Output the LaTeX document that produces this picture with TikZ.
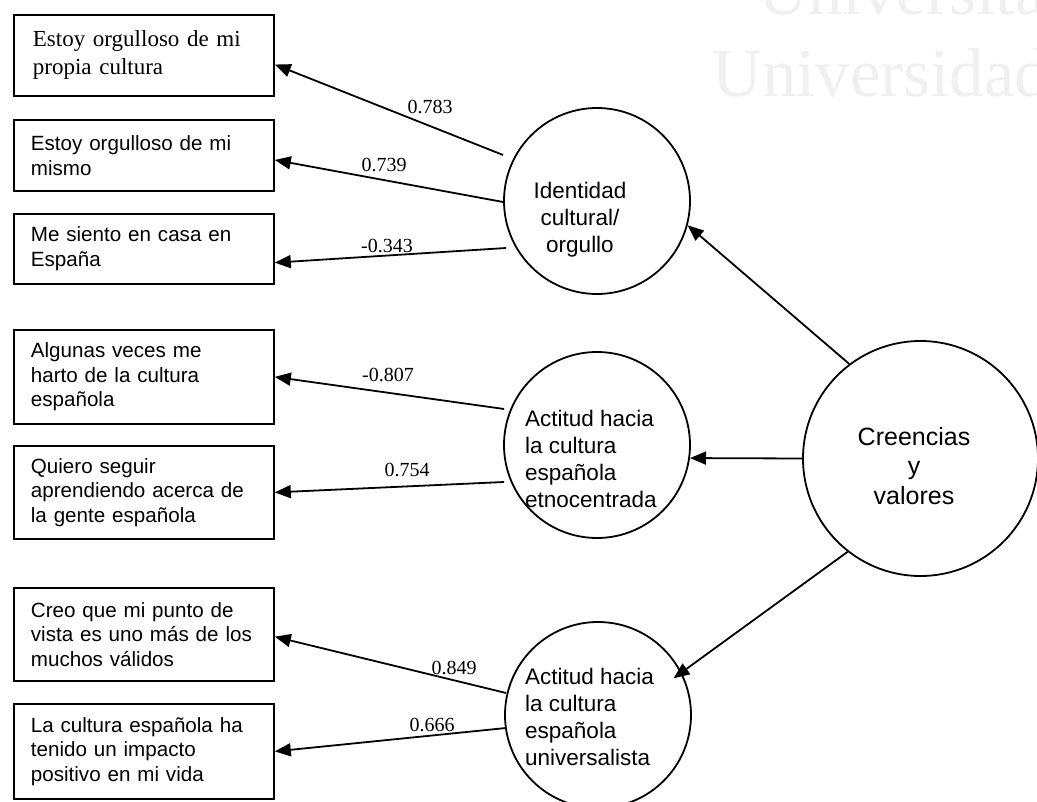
\documentclass[tikz,border=0pt]{standalone}
\usepackage{fontspec}
\setmainfont{Liberation Serif}
\newfontfamily\arialfont{Liberation Sans}
\usetikzlibrary{arrows.meta}
\begin{document}
\begin{tikzpicture}[x=1pt,y=-1pt,
  indic/.style={draw, line width=1.8pt, anchor=north west, text width=226pt,
    inner xsep=17pt, inner ysep=0pt, align=left,
    font=\arialfont\fontsize{20.6}{24.5}\selectfont},
  latent/.style={draw, circle, line width=1.8pt, minimum size=186pt, inner sep=0pt},
  ctext/.style={inner sep=0pt, font=\arialfont\fontsize{22.5}{27}\selectfont},
  coef/.style={inner sep=0pt, font=\fontsize{20}{24}\selectfont},
  conn/.style={line width=1.8pt, -{Triangle[length=16pt,width=13pt]}},
  mark text/.style={inner sep=0pt, anchor=base west, text=black!6,
    font=\fontsize{69}{69}\selectfont},
]
\useasboundingbox (0,0) rectangle (1037,802);
\clip (0,0) rectangle (1037,802);

% faint background lettering
\node[mark text] (wm1) at (758,15) {Universita};
\node[mark text] (wm2) at (712,97) {Universidad};

% observed indicators
\node[indic, minimum height=81pt, font=\fontsize{23}{28}\selectfont] (b1) at (13,14)
  {\hspace*{2pt}Estoy orgulloso de mi\\\hspace*{2pt}propia cultura};
\node[indic, minimum height=71pt] (b2) at (13,119) {Estoy orgulloso de mi\\mismo};
\node[indic, minimum height=70pt] (b3) at (13,213) {Me siento en casa en\\España};
\node[indic, minimum height=94pt] (b4) at (13,329)
  {Algunas veces me\\harto de la cultura\\española};
\node[indic, minimum height=93pt] (b5) at (13,445)
  {Quiero seguir\\aprendiendo acerca de\\la gente española};
\node[indic, minimum height=93pt] (b6) at (13,587)
  {Creo que mi punto de\\vista es uno más de los\\muchos válidos};
\node[indic, minimum height=95pt] (b7) at (13,703)
  {La cultura española ha\\tenido un impacto\\positivo en mi vida};

% latent factors
\node[latent] (id) at (597,201) {};
\node[latent] (et) at (597,445) {};
\node[latent] (un) at (598,715) {};
\node[latent, minimum size=235pt] (cr) at (920.5,458.5) {};

\node[ctext, align=center] (idT) at (580,220) {Identidad\\cultural/\\orgullo};
\node[ctext, align=left, anchor=west] (etT) at (525,459) {Actitud hacia\\la cultura\\española\\etnocentrada};
\node[ctext, align=left, anchor=west] (unT) at (525,717) {Actitud hacia\\la cultura\\española\\universalista};
\node[ctext, align=center, font=\arialfont\fontsize{25}{29.5}\selectfont] (crT) at (914,466) {Creencias\\y\\valores};

% second-order paths
\draw[conn] (cr.127) -- (id.-15);
\draw[conn] (cr.west) -- (et.-8);
\draw[conn, shorten >=-10pt] (cr.232.5) -- (un.27);

% loadings
\draw[conn] ([yshift=46pt]id.west) -- (b1.-4.6);
\draw[conn] ([yshift=-1pt]id.west) -- (b2.-2);
\draw[conn] ([xshift=3pt,yshift=-47pt]id.west) -- (b3.-6.15);
\draw[conn] ([xshift=1pt,yshift=36pt]et.west) -- (b4.-0.9);
\draw[conn] ([xshift=1pt,yshift=-37pt]et.west) -- (b5.-0.66);
\draw[conn] ([xshift=2pt,yshift=22pt]un.west) -- (b6.-1.54);
\draw[conn] ([xshift=2pt,yshift=-13pt]un.west) -- (b7.0.22);

% loading values
\node[coef] (l1) at (430,107) {0.783};
\node[coef] (l2) at (384,165) {0.739};
\node[coef] (l3) at (387,246) {-0.343};
\node[coef] (l4) at (388,375) {-0.807};
\node[coef] (l5) at (407,470) {0.754};
\node[coef] (l6) at (454,668) {0.849};
\node[coef] (l7) at (432,725) {0.666};
\end{tikzpicture}
\end{document}
